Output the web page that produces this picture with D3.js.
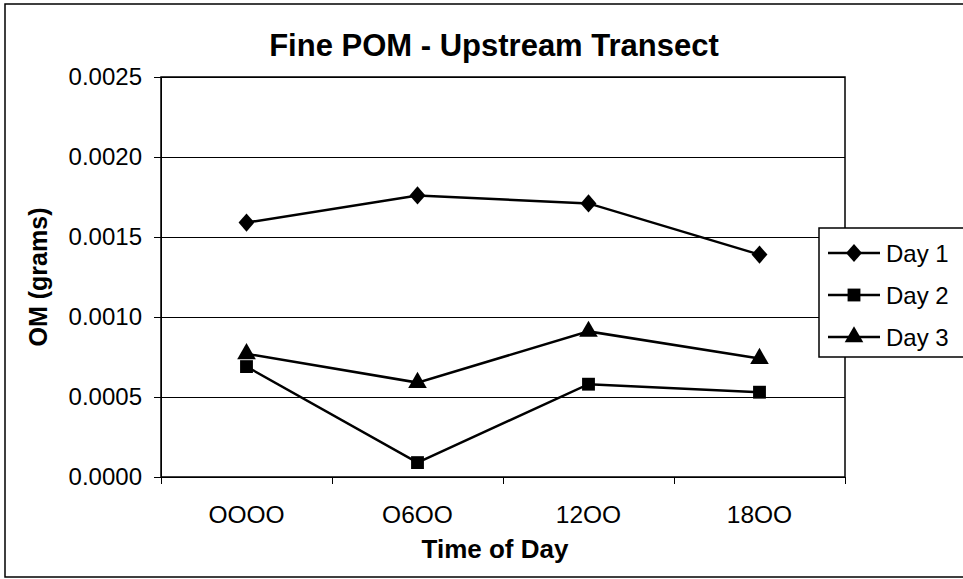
<!DOCTYPE html>
<html>
<head>
<meta charset="utf-8">
<script src="https://cdn.jsdelivr.net/npm/d3@7/dist/d3.min.js"></script>
<style>
  html, body { margin: 0; padding: 0; background: #fff; }
  svg { display: block; font-family: "Liberation Sans", Arial, sans-serif; }
</style>
</head>
<body>
<div id="chart"></div>
<script>
// values
var times = ["OOOO", "O6OO", "12OO", "18OO"];
var day1 = [0.00159, 0.00176, 0.00171, 0.00139];
var day2 = [0.00069, 0.00009, 0.00058, 0.00053];
var day3 = [0.00077, 0.00059, 0.00091, 0.00074];
var seriesNames = ["Day 1", "Day 2", "Day 3"];
var yTicks = [0, 0.0005, 0.001, 0.0015, 0.002, 0.0025];

var W = 963, H = 579;
var plot = {left: 161, right: 845, top: 77, bottom: 477};

var svg = d3.select("#chart").append("svg")
  .attr("width", W)
  .attr("height", H);

// outer chart border (runs off the right edge like the scan)
svg.append("rect")
  .attr("x", 5).attr("y", 4)
  .attr("width", W + 10).attr("height", 573)
  .attr("fill", "#fff")
  .attr("stroke", "#000")
  .attr("stroke-width", 1.5);

var x = d3.scalePoint().domain(times).range([plot.left, plot.right]).padding(0.5);
var y = d3.scaleLinear().domain([0, 0.0025]).range([plot.bottom, plot.top]);

// gridlines
svg.append("g")
  .attr("shape-rendering", "crispEdges")
  .selectAll("line")
  .data(yTicks)
  .enter().append("line")
  .attr("x1", plot.left).attr("x2", plot.right)
  .attr("y1", d => y(d)).attr("y2", d => y(d))
  .attr("stroke", "#000")
  .attr("stroke-width", 1);

// plot frame
svg.append("rect")
  .attr("x", plot.left).attr("y", plot.top)
  .attr("width", plot.right - plot.left)
  .attr("height", plot.bottom - plot.top)
  .attr("fill", "none")
  .attr("stroke", "#000")
  .attr("stroke-width", 1.5);

// y axis
var yAxis = d3.axisLeft(y)
  .tickValues(yTicks)
  .tickFormat(d3.format(".4f"))
  .tickSizeOuter(0)
  .tickSize(7)
  .tickPadding(12);
var gy = svg.append("g")
  .attr("transform", "translate(" + plot.left + ",0)")
  .attr("shape-rendering", "crispEdges")
  .call(yAxis);
gy.select(".domain").attr("stroke-width", 1.5);
gy.selectAll(".tick line").attr("stroke-width", 1);
gy.selectAll("text").attr("font-size", "24px").attr("fill", "#000")
  .attr("font-family", "Liberation Sans, Arial, sans-serif");

// x axis: ticks sit on category boundaries
var step = x.step();
var xBounds = d3.range(times.length + 1).map(i => plot.left + i * step);
var gx = svg.append("g").attr("shape-rendering", "crispEdges");
gx.selectAll("line.xtick")
  .data(xBounds)
  .enter().append("line")
  .attr("class", "xtick")
  .attr("x1", d => d).attr("x2", d => d)
  .attr("y1", plot.bottom).attr("y2", plot.bottom + 7)
  .attr("stroke", "#000")
  .attr("stroke-width", 1);
gx.selectAll("text")
  .data(times)
  .enter().append("text")
  .attr("x", d => x(d))
  .attr("y", 523)
  .attr("text-anchor", "middle")
  .attr("font-size", "24.5px")
  .text(d => d);

// titles
svg.append("text")
  .attr("x", 494).attr("y", 56)
  .attr("text-anchor", "middle")
  .attr("font-size", "31px")
  .attr("font-weight", "bold")
  .text("Fine POM - Upstream Transect");

svg.append("text")
  .attr("x", 495).attr("y", 558)
  .attr("text-anchor", "middle")
  .attr("font-size", "26px")
  .attr("font-weight", "bold")
  .text("Time of Day");

svg.append("text")
  .attr("transform", "translate(47," + ((plot.top + plot.bottom) / 2) + ") rotate(-90)")
  .attr("text-anchor", "middle")
  .attr("font-size", "25px")
  .attr("font-weight", "bold")
  .text("OM (grams)");

// series
var seriesData = [day1, day2, day3];
var symbols = [d3.symbolDiamond2, d3.symbolSquare, d3.symbolTriangle];
var symSizes = [190, 165, 150];

var line = d3.line()
  .x((d, i) => x(times[i]))
  .y(d => y(d));

seriesData.forEach(function(vals, si) {
  var g = svg.append("g").attr("class", "series");
  g.append("path")
    .attr("d", line(vals))
    .attr("fill", "none")
    .attr("stroke", "#000")
    .attr("stroke-width", 2.5);
  g.selectAll("path.marker")
    .data(vals)
    .enter().append("path")
    .attr("class", "marker")
    .attr("d", d3.symbol().type(symbols[si]).size(symSizes[si]))
    .attr("transform", (d, i) => "translate(" + x(times[i]) + "," + y(d) + ")" + (si === 0 ? " scale(0.92,1.05)" : ""))
    .attr("fill", "#000");
});

// legend
var legend = svg.append("g");
legend.append("rect")
  .attr("x", 819).attr("y", 228)
  .attr("width", 160).attr("height", 129)
  .attr("fill", "#fff")
  .attr("stroke", "#000")
  .attr("stroke-width", 1.5);
var legY = d3.scalePoint().domain(seriesNames).range([253, 337]);
seriesNames.forEach(function(name, si) {
  var ly = legY(name);
  legend.append("line")
    .attr("x1", 828).attr("x2", 880)
    .attr("y1", ly).attr("y2", ly)
    .attr("stroke", "#000")
    .attr("stroke-width", 2.5);
  legend.append("path")
    .attr("d", d3.symbol().type(symbols[si]).size(symSizes[si]))
    .attr("transform", "translate(854," + ly + ")" + (si === 0 ? " scale(0.92,1.05)" : ""))
    .attr("fill", "#000");
  legend.append("text")
    .attr("x", 886).attr("y", ly)
    .attr("dy", "0.36em")
    .attr("font-size", "24px")
    .text(name);
});
</script>
</body>
</html>
